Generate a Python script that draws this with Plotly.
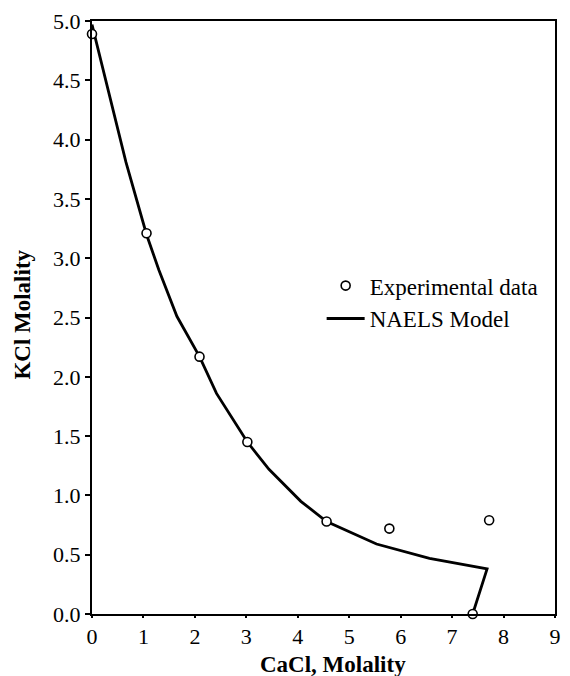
import plotly.graph_objects as go

# KCl solubility in CaCl2 solutions at 25 C
exp_cacl = [0.0, 1.06, 2.09, 3.02, 4.56, 5.78, 7.72, 7.40]
exp_kcl = [4.89, 3.21, 2.17, 1.45, 0.78, 0.72, 0.79, 0.0]

model_cacl = [0.0, 0.66, 1.06, 1.30, 1.65, 2.09, 2.42, 3.02, 3.44, 4.06, 4.56, 5.53, 6.56, 7.68, 7.40]
model_kcl = [4.97, 3.81, 3.20, 2.90, 2.51, 2.17, 1.86, 1.45, 1.22, 0.95, 0.78, 0.59, 0.47, 0.38, 0.0]

x_ticks = list(range(0, 10))
y_ticks = [0.0, 0.5, 1.0, 1.5, 2.0, 2.5, 3.0, 3.5, 4.0, 4.5, 5.0]
y_tick_text = [f"{v:.1f}" for v in y_ticks]

serif = "Liberation Serif, Times New Roman, serif"

fig = go.Figure()
fig.add_trace(go.Scatter(
    x=model_cacl, y=model_kcl, mode="lines", name="NAELS Model",
    line=dict(color="black", width=2.8),
    cliponaxis=False,
))
fig.add_trace(go.Scatter(
    x=exp_cacl, y=exp_kcl, mode="markers", name="Experimental data",
    marker=dict(symbol="circle", size=9, color="white",
                line=dict(color="black", width=1.6)),
    cliponaxis=False,
))

axis_common = dict(
    showgrid=False, zeroline=False, linecolor="black", linewidth=2,
    mirror=True, ticks="outside", tickcolor="black", tickwidth=1.5,
    tickfont=dict(family=serif, size=22, color="black"),
)

fig.update_layout(
    width=570, height=676,
    margin=dict(l=92, r=9, t=21, b=62),
    paper_bgcolor="white", plot_bgcolor="white",
    showlegend=True,
    legend=dict(
        x=0.496, y=0.59, xanchor="left", yanchor="top",
        font=dict(family=serif, size=23, color="black"),
        bgcolor="rgba(0,0,0,0)", traceorder="reversed",
        tracegroupgap=0, itemwidth=38,
    ),
    xaxis=dict(range=[0, 9], tickvals=x_ticks, ticklen=2, **axis_common),
    yaxis=dict(range=[0, 5], tickvals=y_ticks, ticktext=y_tick_text, ticklen=5,
               **axis_common),
    # overlay axes carrying the inward half of the crossing ticks
    xaxis2=dict(range=[0, 9], tickvals=x_ticks, overlaying="x", side="bottom",
                ticks="inside", ticklen=5, tickwidth=1.5, tickcolor="black",
                showticklabels=False, showgrid=False, zeroline=False,
                showline=False, anchor="y"),
    yaxis2=dict(range=[0, 5], tickvals=y_ticks, overlaying="y", side="left",
                ticks="inside", ticklen=6, tickwidth=1.5, tickcolor="black",
                showticklabels=False, showgrid=False, zeroline=False,
                showline=False, anchor="x"),
    annotations=[
        dict(text="<b>CaCl, Molality</b>", xref="paper", yref="paper",
             x=0.521, y=-0.085, xanchor="center", yanchor="middle",
             showarrow=False,
             font=dict(family=serif, size=23, color="black")),
        dict(text="<b>KCl Molality</b>", xref="paper", yref="paper",
             x=-0.151, y=0.505, xanchor="center", yanchor="middle",
             textangle=-90, showarrow=False,
             font=dict(family=serif, size=23, color="black")),
    ],
)

fig.write_html("out.html")
